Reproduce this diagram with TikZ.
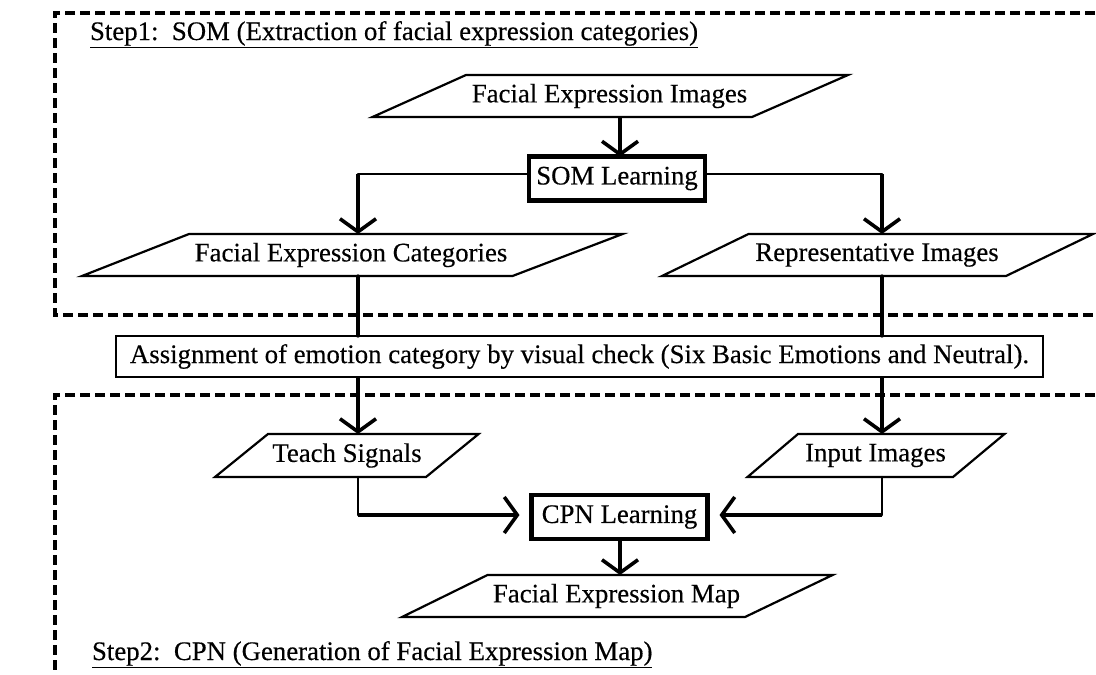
\documentclass[tikz,border=0pt]{standalone}
\usepackage{fontspec}
\setmainfont{Liberation Serif}[FakeBold=0.35]
\usetikzlibrary{arrows.meta}
\newcommand\dfont{\fontsize{26.8pt}{32pt}\selectfont}
\begin{document}
\begin{tikzpicture}[x=1pt,y=-1pt,
  every node/.style={font=\dfont, inner sep=0pt, outer sep=0pt},
  io/.style={minimum height=42pt},
  para/.style={draw, line width=2.2pt, line join=miter},
  procbox/.style={draw, line width=4.5pt, minimum width=176pt, minimum height=44pt},
  notebox/.style={draw, line width=2.2pt, minimum width=927pt, minimum height=41pt},
  frame/.style={line width=3.5pt, dash pattern=on 10pt off 5pt},
  link/.style={line width=2.2pt, line cap=round},
  flowplain/.style={line width=3.2pt, line cap=round},
  flow/.style={line width=3.2pt, -{Straight Barb[length=13pt,width=36pt,line width=3.6pt]}},
  steplabel/.style={anchor=base west},
]
\useasboundingbox (0,0) rectangle (1096,675);
\clip (0,0) rectangle (1096,675);

% dashed frames
\draw[frame] (1110,13) -- (55,13) -- (55,315) -- (1110,315);
\draw[frame] (1110,395) -- (55,395) -- (55,690);

% step labels
\node[steplabel] (s1) at (90,40) {\underline{Step1:\ \ SOM (Extraction of facial expression categories)}};
\node[steplabel] (s2) at (92,660) {\underline{Step2:\ \ CPN (Generation of Facial Expression Map)}};

% shapes
\draw[para] (372.5,117) -- (466,75) -- (848,75) -- (752,117) -- cycle;
\node[io] (fei) at (609.5,96) {Facial Expression Images};

\node[procbox] (som) at (617,178.5) {SOM Learning};

\draw[para] (82,276) -- (189,234) -- (622.6,234) -- (512.5,276) -- cycle;
\node[io] (fec) at (351,255) {Facial Expression Categories};

\draw[para] (662,276) -- (748.5,234) -- (1093,234) -- (1006,276) -- cycle;
\node[io] (ri) at (877,255) {Representative Images};

\node[notebox] (asg) at (579.5,356.5) {Assignment of emotion category by visual check (Six Basic Emotions and Neutral).};

\draw[para] (215,477) -- (268,434) -- (478.6,434) -- (426,477) -- cycle;
\node[io, minimum height=43pt] (ts) at (347,455.5) {Teach Signals};

\draw[para] (747.5,477) -- (798,434) -- (1004.5,434) -- (953,477) -- cycle;
\node[io, minimum height=43pt] (ii) at (875.5,455.5) {Input Images};

\node[procbox] (cpn) at (619.5,517) {CPN Learning};

\draw[para] (402,617) -- (487.5,575) -- (832.6,575) -- (745,617) -- cycle;
\node[io] (fem) at (616.5,596) {Facial Expression Map};

% connector columns / rows
\coordinate (colL) at (358,174);
\coordinate (colR) at (882,174);
\coordinate (colM) at (620,0);
\coordinate (rowC) at (0,515);

\draw[flow] (colM |- fei.south) -- (colM |- som.north);
\draw[link] (som.west |- colL) -- (colL);
\draw[flow] (colL) -- (colL |- fec.north);
\draw[link] (som.east |- colR) -- (colR);
\draw[flow] (colR) -- (colR |- ri.north);
\draw[flowplain] (colL |- fec.south) -- (colL |- asg.north);
\draw[flowplain] (colR |- ri.south) -- (colR |- asg.north);
\draw[flow] (colL |- asg.south) -- (colL |- ts.north);
\draw[flow] (colR |- asg.south) -- (colR |- ii.north);
\draw[link] (colL |- ts.south) -- (colL |- rowC);
\draw[flow, shorten >=12pt] (colL |- rowC) -- (cpn.west |- rowC);
\draw[link] (colR |- ii.south) -- (colR |- rowC);
\draw[flow, shorten >=12pt] (colR |- rowC) -- (cpn.east |- rowC);
\draw[flow] (colM |- cpn.south) -- (colM |- fem.north);
\end{tikzpicture}
\end{document}
